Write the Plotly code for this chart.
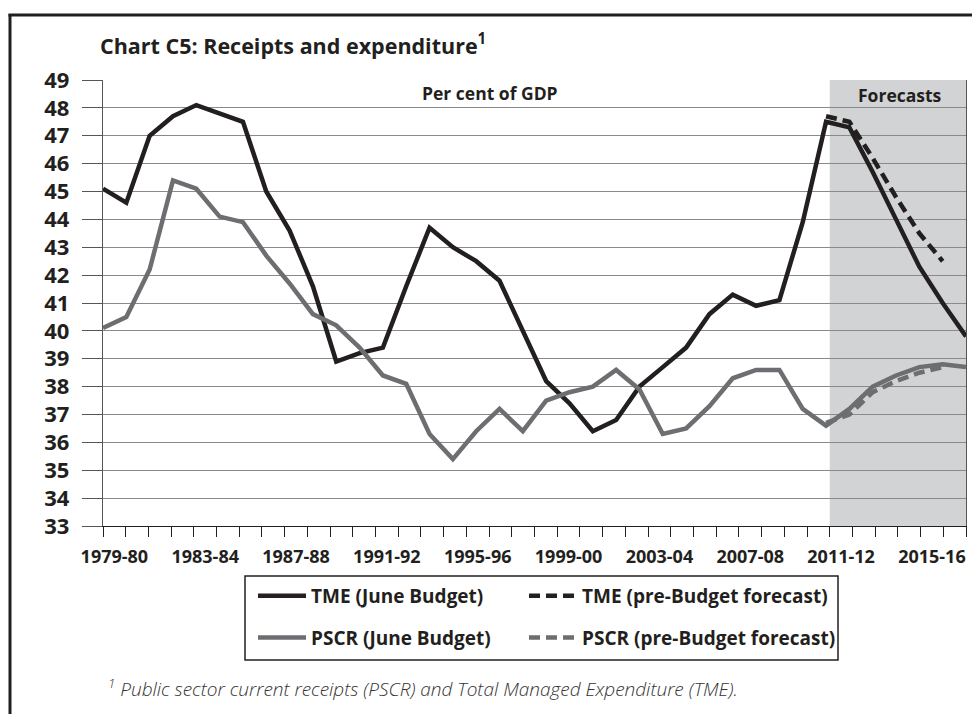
import plotly.graph_objects as go

# ---------------- data ----------------
data_years = [f"{y}-{str(y + 1)[-2:]}" for y in range(1978, 2016)]  # 1978-79 .. 2015-16
tme_june = [45.1, 44.6, 47.0, 47.7, 48.1, 47.8, 47.5, 45.0, 43.6, 41.6,
            38.9, 39.2, 39.4, 41.6, 43.7, 43.0, 42.5, 41.8, 40.0, 38.2,
            37.4, 36.4, 36.8, 38.0, 38.7, 39.4, 40.6, 41.3, 40.9, 41.1,
            43.9, 47.5, 47.3, 45.7, 44.0, 42.3, 41.0, 39.8]
pscr_june = [40.1, 40.5, 42.2, 45.4, 45.1, 44.1, 43.9, 42.7, 41.7, 40.6,
             40.2, 39.4, 38.4, 38.1, 36.3, 35.4, 36.4, 37.2, 36.4, 37.5,
             37.8, 38.0, 38.6, 37.9, 36.3, 36.5, 37.3, 38.3, 38.6, 38.6,
             37.2, 36.6, 37.2, 38.0, 38.4, 38.7, 38.8, 38.7]
pb_years = ["2009-10", "2010-11", "2011-12", "2012-13", "2013-14", "2014-15"]
tme_pb = [47.7, 47.5, 46.2, 44.8, 43.5, 42.5]
pscr_pb = [36.7, 37.0, 37.8, 38.2, 38.5, 38.7]

axis_cats = [f"{y}-{str(y + 1)[-2:]}" for y in range(1979, 2017)]  # 1979-80 .. 2016-17
label_every = 4
forecast_cats = ["2011-12", "2012-13", "2013-14", "2014-15", "2015-16", "2016-17"]

Y_MIN, Y_MAX = 33, 49

# ---------------- layout helpers ----------------
OFF = 8                      # page body margin of the rendered html
W, H = 980 - 2 * OFF, 722 - 2 * OFF
ML, MT = 103 - OFF, 80 - OFF
MR = W - (966 - OFF)
MB = H - (526 - OFF)
PW, PH = W - ML - MR, H - MT - MB


def px_x(px):
    """screen pixel -> paper x"""
    return (px - OFF - ML) / PW


def px_y(py):
    """screen pixel -> paper y"""
    return (H - MB - (py - OFF)) / PH


BLACK = "#231f20"
GREY = "#6d6e71"
GRID = "#8a8a8a"
FONT = "Open Sans"

cat_pos = list(range(len(axis_cats)))
tick_pos = cat_pos[::label_every]
tick_txt = axis_cats[::label_every]

fig = go.Figure()

# invisible trace establishing the visible category axis
fig.add_trace(go.Scatter(x=cat_pos, y=[None] * len(axis_cats), xaxis="x", yaxis="y",
                         showlegend=False, hoverinfo="skip", mode="lines"))

LW = 4.5
DASH = "11px,6px"
fig.add_trace(go.Scatter(x=data_years, y=tme_june, xaxis="x2", yaxis="y", mode="lines",
                         name="TME (June Budget)", line=dict(color=BLACK, width=LW),
                         legend="legend", legendgroup="a"))
fig.add_trace(go.Scatter(x=data_years, y=pscr_june, xaxis="x2", yaxis="y", mode="lines",
                         name="PSCR (June Budget)", line=dict(color=GREY, width=LW),
                         legend="legend", legendgroup="b"))
fig.add_trace(go.Scatter(x=pb_years, y=tme_pb, xaxis="x2", yaxis="y", mode="lines",
                         name="TME (pre-Budget forecast)",
                         line=dict(color=BLACK, width=LW, dash=DASH),
                         legend="legend2", legendgroup="c"))
fig.add_trace(go.Scatter(x=pb_years, y=pscr_pb, xaxis="x2", yaxis="y", mode="lines",
                         name="PSCR (pre-Budget forecast)",
                         line=dict(color=GREY, width=LW, dash=DASH),
                         legend="legend2", legendgroup="d"))

shapes = []
# forecast shading, positioned on the category axis
i0 = axis_cats.index(forecast_cats[0])
i1 = axis_cats.index(forecast_cats[-1])
shapes.append(dict(type="rect", xref="x", yref="y", x0=i0 - 0.5, x1=i1 + 0.5,
                   y0=Y_MIN, y1=Y_MAX, fillcolor="#d1d3d4", line=dict(width=0),
                   layer="below"))
# legend box
shapes.append(dict(type="rect", xref="paper", yref="paper",
                   x0=px_x(245), x1=px_x(838), y0=px_y(660), y1=px_y(576),
                   line=dict(color=BLACK, width=1.5)))
# outer frame (left and top)
shapes.append(dict(type="line", xref="paper", yref="paper",
                   x0=px_x(10), x1=px_x(10), y0=px_y(14), y1=px_y(730),
                   line=dict(color=BLACK, width=3)))
shapes.append(dict(type="line", xref="paper", yref="paper",
                   x0=px_x(8.5), x1=px_x(990), y0=px_y(15), y1=px_y(15),
                   line=dict(color=BLACK, width=3)))

annotations = [
    dict(text="<b>Per cent of GDP</b>", xref="paper", yref="paper",
         x=px_x(490), y=px_y(93), xanchor="center", yanchor="middle", showarrow=False,
         font=dict(family=FONT, size=17.5, color=BLACK)),
    dict(text="<b>Forecasts</b>", xref="paper", yref="paper",
         x=px_x(900), y=px_y(95), xanchor="center", yanchor="middle", showarrow=False,
         font=dict(family=FONT, size=17.5, color=BLACK)),
    dict(text="<i><sup>1</sup> Public sector current receipts (PSCR) and Total Managed Expenditure (TME).</i>",
         xref="paper", yref="paper", x=px_x(106), y=px_y(688), xanchor="left", yanchor="middle",
         showarrow=False, font=dict(family=FONT, size=19, color="#333333", weight=300)),
]

fig.update_layout(
    width=W, height=H, autosize=False,
    margin=dict(l=ML, r=MR, t=MT, b=MB, pad=0),
    paper_bgcolor="white", plot_bgcolor="white",
    title=dict(text="<b>Chart C5: Receipts and expenditure<sup>1</sup></b>",
               xref="container", yref="container", x=(100 - OFF) / W, y=1 - (46 - OFF) / H,
               xanchor="left", yanchor="middle",
               font=dict(family=FONT, size=21.5, color=BLACK)),
    xaxis=dict(type="linear", range=[-0.5, len(axis_cats) - 0.5],
               tickmode="array", tickvals=tick_pos, ticktext=tick_txt, ticks="",
               minor=dict(tickmode="linear", tick0=-0.5, dtick=1, ticks="outside",
                          ticklen=10, tickcolor=BLACK, tickwidth=1.2, showgrid=False),
               showline=True, linecolor=BLACK, linewidth=1.2, showgrid=False,
               zeroline=False, tickangle=0, ticklabelstandoff=14,
               tickfont=dict(family=FONT, size=18, color=BLACK, weight="bold"),
               fixedrange=True),
    xaxis2=dict(type="category", categoryorder="array", categoryarray=data_years,
                range=[0, len(data_years) - 1], overlaying="x", visible=False,
                fixedrange=True),
    yaxis=dict(range=[Y_MIN, Y_MAX], dtick=1, tick0=Y_MIN, ticks="outside", ticklen=20,
               tickcolor="#555555", tickwidth=1.2, showgrid=True, gridcolor=GRID,
               gridwidth=1.3, showline=True, mirror=True, linecolor="#555555",
               linewidth=1.3, zeroline=False, ticklabelstandoff=8,
               tickfont=dict(family=FONT, size=22, color=BLACK, weight="bold"),
               fixedrange=True),
    legend=dict(xref="paper", yref="paper", x=px_x(253), y=px_y(577),
                xanchor="left", yanchor="top", orientation="v", bgcolor="rgba(0,0,0,0)",
                itemwidth=48, tracegroupgap=14,
                font=dict(family=FONT, size=19, color=BLACK, weight="bold")),
    legend2=dict(xref="paper", yref="paper", x=px_x(524), y=px_y(577),
                 xanchor="left", yanchor="top", orientation="v", bgcolor="rgba(0,0,0,0)",
                 itemwidth=48, tracegroupgap=14,
                 font=dict(family=FONT, size=19, color=BLACK, weight="bold")),
    shapes=shapes,
    annotations=annotations,
    showlegend=True,
)

fig.write_html("out.html")
